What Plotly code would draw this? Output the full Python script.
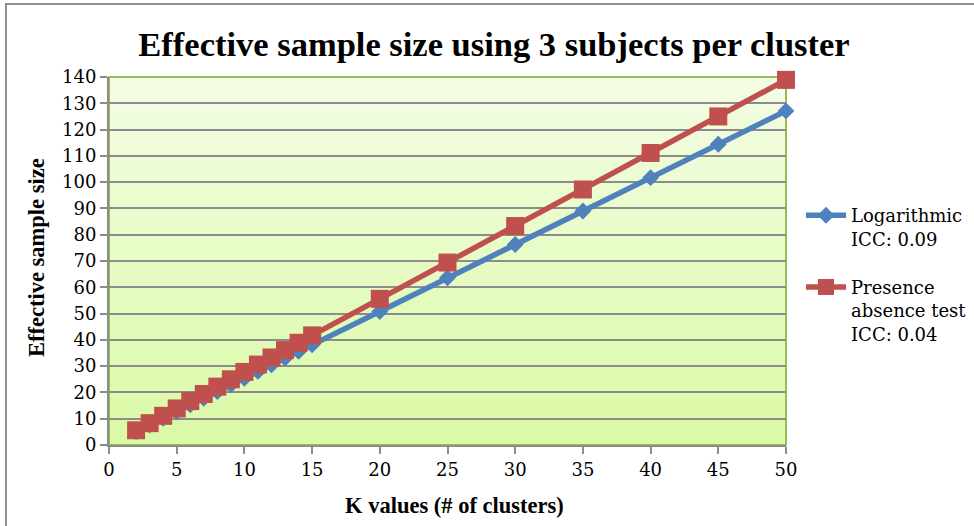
import plotly.graph_objects as go

# Number of clusters (K)
k_values = [2, 3, 4, 5, 6, 7, 8, 9, 10, 11, 12, 13, 14, 15, 20, 25, 30, 35, 40, 45, 50]

# Effective sample size, 3 subjects per cluster
logarithmic = [5.1, 7.6, 10.2, 12.7, 15.3, 17.8, 20.3, 22.9, 25.4, 28.0, 30.5,
               33.1, 35.6, 38.1, 50.8, 63.6, 76.3, 89.0, 101.7, 114.4, 127.1]
presence_absence = [5.6, 8.3, 11.1, 13.9, 16.7, 19.4, 22.2, 25.0, 27.8, 30.6, 33.3,
                    36.1, 38.9, 41.7, 55.6, 69.4, 83.3, 97.2, 111.1, 125.0, 138.9]

series_names = ["Logarithmic<br>ICC: 0.09", "Presence<br>absence test<br>ICC: 0.04"]
x_ticks = [0, 5, 10, 15, 20, 25, 30, 35, 40, 45, 50]
y_ticks = list(range(0, 150, 10))

BLUE = "#4f81bd"
RED = "#c0504d"
GREEN = "#9bbb59"
GRID = "#8c8c8c"
SERIF = "DejaVu Serif"
BOLD_SERIF = "Liberation Serif"

W, H = 974, 526
L, R, T, B = 109, 188, 77, 81
PW, PH = W - L - R, H - T - B

fig = go.Figure()
fig.add_trace(go.Scatter(
    x=k_values, y=logarithmic, name=series_names[0], mode="lines+markers",
    line=dict(color=BLUE, width=5.5),
    marker=dict(symbol="diamond", size=13, color=BLUE),
    cliponaxis=False, legendgroup="log",
))
fig.add_trace(go.Scatter(
    x=k_values, y=presence_absence, name=series_names[1], mode="lines+markers",
    line=dict(color=RED, width=5.5),
    marker=dict(symbol="square", size=18, color=RED),
    cliponaxis=False, legendgroup="pa",
))

shapes = []
# Chart frame
shapes.append(dict(
    type="rect", xref="paper", yref="paper",
    x0=(6 - L) / PW, x1=1.5, y0=-0.5, y1=1 + (T - 4) / PH,
    line=dict(color="#8f8f8f", width=2), fillcolor="rgba(0,0,0,0)", layer="below",
))
# Vertical gradient for the plot area (light at top, green at bottom)
top_rgb = (243, 253, 229)
bot_rgb = (218, 250, 165)
bands = 60
for i in range(bands):
    f = i / (bands - 1)
    c = tuple(round(top_rgb[j] + (bot_rgb[j] - top_rgb[j]) * f) for j in range(3))
    shapes.append(dict(
        type="rect", xref="paper", yref="paper",
        x0=0, x1=1, y0=1 - (i + 1) / bands, y1=min(1, 1 - i / bands + 0.002),
        fillcolor="rgb(%d,%d,%d)" % c, line=dict(width=0), layer="below",
    ))
# Plot area border
shapes.append(dict(
    type="rect", xref="paper", yref="paper", x0=0, x1=1, y0=0, y1=1,
    line=dict(color=GREEN, width=2), fillcolor="rgba(0,0,0,0)", layer="below",
))

fig.update_layout(
    width=W, height=H,
    margin=dict(l=L, r=R, t=T, b=B, autoexpand=False),
    paper_bgcolor="white",
    plot_bgcolor="rgba(0,0,0,0)",
    shapes=shapes,
    title=dict(
        text="<b>Effective sample size using 3 subjects per cluster</b>",
        font=dict(family=BOLD_SERIF, size=34.5, color="black"),
        x=494 / W, xanchor="center", xref="container",
        y=1 - 44 / H, yanchor="middle", yref="container",
    ),
    xaxis=dict(
        range=[0, 50], tickvals=x_ticks, showgrid=False, zeroline=False,
        showline=True, linecolor=GRID, linewidth=2,
        ticks="outside", ticklen=7, tickwidth=2, tickcolor=GRID,
        tickfont=dict(family=SERIF, size=18, color="black"),
    ),
    yaxis=dict(
        range=[0, 140], tickvals=y_ticks, showgrid=True, gridcolor=GRID, gridwidth=2,
        zeroline=False, showline=True, linecolor=GRID, linewidth=2,
        ticks="outside", ticklen=7, tickwidth=2, tickcolor=GRID,
        tickfont=dict(family=SERIF, size=18, color="black"),
    ),
    legend=dict(
        x=(801 - L) / PW, xanchor="left", y=1 - (197 - T) / PH, yanchor="top",
        valign="top", bgcolor="rgba(0,0,0,0)",
        font=dict(family=SERIF, size=18, color="black"),
        traceorder="grouped", tracegroupgap=22, itemwidth=40,
    ),
    annotations=[
        dict(text="<b>K values (# of clusters)</b>", xref="paper", yref="paper",
             x=(454 - L) / PW, y=-(505 - (H - B)) / PH,
             xanchor="center", yanchor="middle", showarrow=False,
             font=dict(family=BOLD_SERIF, size=22.5, color="black")),
        dict(text="<b>Effective sample size</b>", xref="paper", yref="paper",
             x=(36 - L) / PW, y=1 - (258 - T) / PH,
             xanchor="center", yanchor="middle", showarrow=False, textangle=-90,
             font=dict(family=BOLD_SERIF, size=22.5, color="black")),
    ],
)

fig.write_html("out.html")
